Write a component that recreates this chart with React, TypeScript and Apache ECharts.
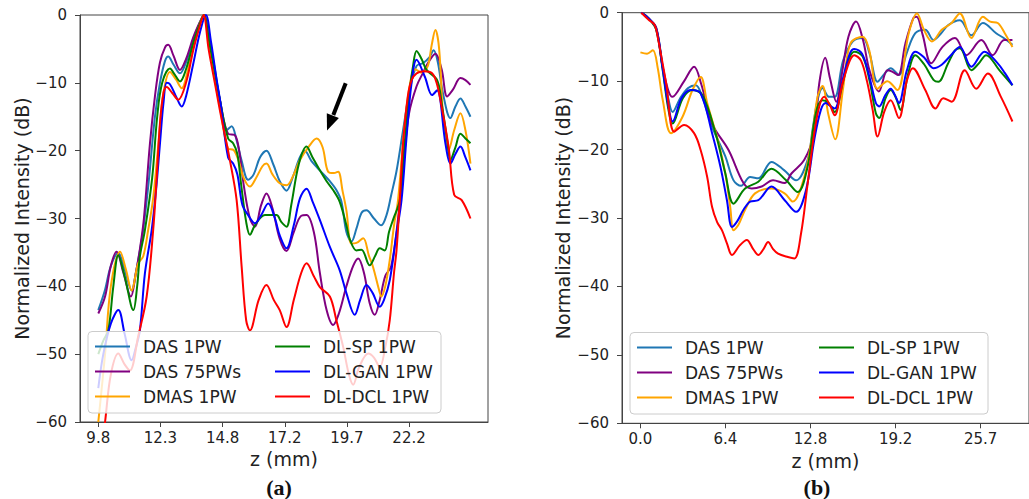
import React, { useEffect, useRef } from "react";
import * as echarts from "echarts";

// ---------- tick labels ----------
const zTicksA = [9.8, 12.28, 14.76, 17.24, 19.72, 22.2];
const zTickLabelsA = ["9.8", "12.3", "14.8", "17.2", "19.7", "22.2"];
const zTicksB = [0, 6.42, 12.84, 19.26, 25.68];
const zTickLabelsB = ["0.0", "6.4", "12.8", "19.2", "25.7"];

const seriesNames = ["DAS 1PW", "DAS 75PWs", "DMAS 1PW", "DL-SP 1PW", "DL-GAN 1PW", "DL-DCL 1PW"];

// ---------- panel (a) : [z (mm), dB] ----------
const dasA = [[9.8,-43.5],[10.07,-40.5],[10.3,-37],[10.6,-35.1],[10.85,-37.5],[11.13,-40.6],[11.3,-38],[11.46,-34.7],[11.59,-31.7],[11.8,-25],[12.06,-15],[12.26,-10],[12.46,-6.8],[12.59,-6.1],[12.8,-7.3],[13.06,-8.6],[13.3,-7],[13.6,-3.5],[13.86,-1],[14.01,0],[14.25,-4],[14.45,-8],[14.65,-12.5],[14.92,-17],[15.12,-16.4],[15.32,-18.5],[15.52,-21.5],[15.78,-24.3],[16.0,-23.5],[16.25,-21],[16.51,-20],[16.78,-22],[17.04,-24.5],[17.31,-25.9],[17.55,-24],[17.84,-21],[18.04,-20],[18.3,-21.5],[18.64,-22.9],[19.04,-24.5],[19.3,-25.8],[19.5,-27.5],[19.7,-32],[19.9,-33.4],[20.1,-31.5],[20.3,-29.2],[20.5,-28.8],[20.8,-30],[21.09,-31],[21.3,-29.5],[21.49,-26.5],[21.7,-23],[21.96,-17],[22.23,-11],[22.5,-7.5],[22.76,-7.1],[23.0,-6.3],[23.18,-5.2],[23.35,-7],[23.55,-11.5],[23.85,-15.2],[24.05,-13.5],[24.25,-12.3],[24.45,-13.5],[24.65,-15]];
const das75A = [[9.8,-44],[10.07,-41.5],[10.3,-37],[10.53,-34.9],[10.8,-38],[11.1,-41.5],[11.3,-38],[11.46,-34.5],[11.62,-30],[11.86,-19],[12.06,-12],[12.26,-7],[12.46,-4.8],[12.59,-4.4],[12.8,-6],[13.06,-8.1],[13.3,-6.5],[13.6,-3.2],[13.86,-1],[14.01,0],[14.25,-4.5],[14.45,-8.5],[14.65,-12.5],[14.98,-17.5],[15.25,-17.7],[15.42,-20],[15.6,-25],[15.85,-30],[16.05,-31.2],[16.3,-28],[16.51,-26.3],[16.75,-28.5],[17.04,-33],[17.31,-34.8],[17.6,-32],[17.9,-29.6],[18.11,-29.5],[18.4,-32],[18.64,-38],[18.91,-43.5],[19.17,-45.7],[19.4,-44],[19.7,-40],[19.97,-37],[20.17,-35.9],[20.4,-38],[20.63,-42.5],[20.83,-44.2],[21.03,-42],[21.25,-38.5],[21.49,-37],[21.76,-30],[22.0,-21],[22.2,-14.5],[22.5,-10.5],[22.76,-8.5],[23.0,-6.8],[23.25,-5.7],[23.5,-8],[23.72,-12],[23.95,-11],[24.25,-9.3],[24.45,-9.6],[24.65,-10.3]];
const dmasA = [[9.8,-60],[10.07,-50],[10.3,-40],[10.67,-34.9],[10.9,-37.5],[11.13,-40.6],[11.39,-36.6],[11.59,-35.6],[11.79,-31.7],[11.99,-27],[12.2,-19],[12.4,-11.5],[12.66,-8.4],[12.9,-9.5],[13.13,-10.8],[13.35,-8.5],[13.6,-4.5],[13.86,-1.2],[14.01,0],[14.25,-5],[14.45,-9.5],[14.65,-13.5],[14.98,-19.7],[15.2,-19.9],[15.4,-21.5],[15.6,-24],[15.85,-25.3],[16.1,-24],[16.35,-22.3],[16.51,-21.9],[16.75,-23.5],[17.04,-24.8],[17.31,-25.1],[17.6,-23.5],[17.84,-21.4],[18.2,-19.4],[18.51,-18.2],[18.75,-19.5],[18.97,-23.1],[19.2,-23.3],[19.37,-23.1],[19.55,-26],[19.7,-28.8],[19.9,-33.7],[20.1,-33.6],[20.37,-32.9],[20.6,-35.5],[20.76,-37.1],[21.0,-40.5],[21.09,-41.5],[21.25,-40],[21.43,-36.1],[21.6,-31],[21.76,-27.3],[21.98,-18],[22.2,-11],[22.45,-8],[22.7,-8.5],[22.95,-7.5],[23.1,-4.5],[23.25,-2.2],[23.4,-5],[23.58,-16],[23.78,-19.9],[24.0,-17],[24.25,-14.5],[24.45,-17],[24.65,-21.9]];
const dlspA = [[9.8,-50],[10.0,-48],[10.2,-46.5],[10.4,-40],[10.6,-35.4],[10.85,-38.5],[11.2,-43.5],[11.35,-40],[11.46,-35.6],[11.66,-31.7],[11.95,-24],[12.15,-15],[12.35,-10],[12.66,-7.9],[12.85,-8.8],[13.06,-9.8],[13.3,-8],[13.6,-4],[13.86,-1.2],[14.01,0],[14.25,-4.5],[14.45,-8.5],[14.65,-12.5],[14.98,-18.2],[15.18,-18.9],[15.35,-20.5],[15.5,-25],[15.7,-30.5],[15.85,-32.4],[16.05,-31],[16.45,-29.5],[16.91,-29.5],[17.1,-30.5],[17.31,-31.2],[17.5,-28],[17.8,-22],[18.11,-19.4],[18.35,-21],[18.64,-22.9],[18.91,-24.5],[19.17,-25.8],[19.43,-27.5],[19.7,-31],[19.83,-33],[20.1,-34.7],[20.3,-34.6],[20.63,-36.9],[20.85,-35.5],[21.03,-34.4],[21.23,-34.7],[21.4,-32],[21.56,-30.2],[21.83,-27.3],[22.0,-20],[22.2,-12],[22.36,-7.5],[22.5,-5.3],[22.7,-6.5],[22.9,-8.1],[23.32,-9.6],[23.5,-13],[23.72,-18.4],[23.85,-21.4],[24.05,-19.5],[24.25,-17.5],[24.45,-18.2],[24.65,-18.9]];
const dlganA = [[9.8,-55],[10.0,-50],[10.3,-45.5],[10.6,-43.5],[10.85,-47],[11.13,-50.9],[11.3,-49],[11.46,-46.5],[11.66,-38.1],[11.93,-31.7],[12.1,-26],[12.26,-19],[12.4,-13],[12.53,-10],[12.66,-10.2],[12.9,-12],[13.13,-13.5],[13.3,-12],[13.6,-7],[13.86,-2.5],[14.09,0],[14.3,-4],[14.5,-9],[14.7,-13.5],[14.98,-21],[15.18,-21.9],[15.35,-23.5],[15.55,-28],[15.78,-29.5],[16.05,-30.7],[16.3,-29.5],[16.58,-27.8],[16.85,-30],[17.04,-32.5],[17.31,-34.4],[17.6,-31],[17.85,-27],[18.11,-25.6],[18.35,-27.5],[18.64,-30.2],[19.04,-34.2],[19.43,-37.6],[19.7,-41],[20.03,-44.2],[20.25,-42],[20.5,-39.8],[20.75,-41],[21.03,-43],[21.2,-42],[21.43,-39.1],[21.7,-32.2],[21.9,-27.3],[22.1,-18],[22.3,-10],[22.5,-6.6],[22.83,-9.1],[23.12,-11.8],[23.32,-11.1],[23.65,-18.9],[23.85,-21.9],[24.05,-20.5],[24.25,-19.4],[24.45,-21],[24.65,-22.9]];
const dldclA = [[9.8,-68],[10.07,-60],[10.3,-53],[10.6,-49.9],[10.85,-51.5],[11.06,-52.4],[11.39,-47.4],[11.73,-41.5],[11.99,-31.7],[12.13,-24],[12.26,-16],[12.4,-11.5],[12.53,-10.6],[12.75,-11.5],[12.99,-12.5],[13.3,-10],[13.6,-5],[13.86,-1.5],[14.0,0],[14.2,-5],[14.45,-10],[14.65,-14],[15.05,-21.4],[15.32,-27.3],[15.52,-37.1],[15.7,-45],[15.85,-46.5],[16.2,-42],[16.51,-39.8],[16.8,-42],[17.04,-43.5],[17.31,-46],[17.6,-42],[17.9,-38],[18.11,-36.6],[18.4,-38.5],[18.64,-40.1],[19.04,-41.5],[19.3,-45],[19.57,-48.9],[19.8,-53],[19.97,-54.5],[20.2,-52],[20.57,-49.9],[20.8,-50.5],[21.03,-51.9],[21.25,-49],[21.43,-45],[21.6,-38],[21.7,-34.7],[21.83,-27.3],[21.96,-19],[22.15,-12],[22.3,-9.6],[22.5,-8.6],[22.8,-8.3],[23.12,-8.6],[23.3,-10],[23.45,-12.5],[23.78,-19.5],[24.0,-26.5],[24.3,-27.3],[24.65,-30]];

// ---------- panel (b) : [z (mm), dB] ----------
const dasB = [[0.07,0],[0.6,-0.8],[1.19,-2.2],[1.69,-8],[2.1,-12.5],[2.43,-14.5],[3.0,-12.5],[3.6,-11],[4.18,-10.6],[4.7,-12.5],[5.41,-16.7],[6.41,-21],[7.03,-24.5],[7.6,-25.3],[8.28,-24],[8.9,-24.2],[9.89,-21.8],[10.84,-23],[11.75,-24.5],[12.62,-21.5],[13.0,-17],[13.37,-12.8],[13.74,-11],[14.24,-12.3],[14.66,-12.3],[15.3,-7],[16.03,-4.2],[16.78,-3.7],[17.3,-6],[17.9,-10.1],[18.4,-9],[18.89,-8.1],[19.51,-9.1],[20.08,-6],[20.75,-3],[21.5,-2.5],[22.12,-4],[22.7,-3],[23.24,-1.8],[24.11,-1.1],[24.98,-3.3],[25.85,-1.5],[26.85,-3],[27.5,-3.8],[28.08,-4.7]];
const das75B = [[0.07,0],[0.6,-0.8],[1.19,-2.2],[1.69,-8],[2.43,-12.3],[3.3,-10],[4.05,-7.9],[4.6,-10.5],[5.41,-16.2],[6.66,-20.1],[7.78,-24.9],[8.4,-25.7],[9.15,-25.4],[10.01,-24.5],[10.88,-24.9],[11.4,-23.5],[12.37,-21.5],[13.12,-17.6],[13.5,-10.3],[13.95,-6.6],[14.3,-9.5],[14.79,-13],[15.2,-9],[15.7,-3.5],[16.28,-1.3],[16.8,-4],[17.3,-8.5],[18.0,-11.5],[18.64,-8.4],[19.0,-8.6],[19.45,-9.1],[20.0,-4.5],[20.6,-0.8],[20.85,-0.6],[21.3,-3.2],[21.95,-7.4],[22.8,-5],[23.74,-3.7],[24.61,-6.2],[25.73,-4],[26.59,-6.2],[27.46,-4],[28.08,-4]];
const dmasB = [[0.0,-5.8],[0.5,-6],[0.94,-5.5],[1.3,-8],[1.69,-12.8],[2.31,-17.6],[3.18,-15.2],[3.93,-11.3],[4.55,-9.4],[5.04,-13.2],[5.91,-19.1],[6.41,-23.5],[6.78,-28.4],[7.03,-31.8],[7.4,-31],[7.9,-28.8],[8.65,-26.4],[9.89,-25.7],[10.88,-26.4],[11.5,-27.6],[12.37,-24],[12.99,-17.6],[13.37,-12.3],[13.74,-10.7],[14.2,-15],[14.7,-18.5],[15.3,-11],[15.85,-4.5],[16.78,-3.5],[17.27,-5.5],[17.9,-11.1],[18.64,-10],[19.39,-11.3],[20.25,-3],[20.88,-0.1],[21.4,-2.5],[22.0,-4.2],[22.74,-2.5],[23.49,-1.5],[24.11,-0.1],[24.98,-3.7],[25.85,-0.6],[26.4,-1.3],[26.97,-1.5],[27.5,-3],[28.08,-5]];
const dlspB = [[0.07,0],[0.6,-0.8],[1.19,-2.5],[1.69,-8.5],[2.1,-14],[2.43,-16.2],[3.2,-12.5],[3.92,-11.3],[4.67,-12],[5.67,-17.6],[6.41,-23.5],[7.03,-27.9],[7.9,-25.7],[8.9,-24.7],[9.89,-22.8],[11.0,-24.5],[11.88,-26.2],[12.62,-22.5],[13.24,-14.7],[13.74,-12.8],[14.2,-13.2],[14.66,-14.5],[15.3,-10],[15.8,-6.5],[16.15,-5.7],[16.78,-6.4],[17.3,-10],[17.77,-14.7],[18.02,-15.4],[18.5,-12.5],[18.89,-11.3],[19.3,-12.5],[19.63,-14.2],[20.2,-9],[20.75,-6.2],[21.4,-7.5],[22.12,-9.8],[22.49,-10.1],[23.2,-7.5],[23.74,-5.5],[24.11,-5.2],[24.98,-8.4],[25.5,-7.5],[26.1,-6.2],[27.09,-8.4],[28.08,-10.6]];
const dlganB = [[0.07,0],[0.6,-0.8],[1.19,-2.3],[1.69,-8.3],[2.1,-13.5],[2.43,-15.9],[3.1,-12.5],[3.8,-11.3],[4.55,-11.8],[5.41,-17.6],[6.04,-22.5],[6.53,-27.4],[6.91,-31.3],[7.3,-30.5],[7.78,-28.8],[8.28,-27.6],[8.9,-27.4],[9.89,-25.4],[10.89,-27.4],[11.75,-29.1],[12.5,-25.9],[13.12,-18.6],[13.62,-14.2],[13.99,-13.2],[14.3,-13.6],[14.66,-14],[15.3,-9.5],[15.8,-6],[16.15,-5.3],[16.73,-6],[17.3,-9.5],[17.77,-13.2],[18.02,-13.7],[18.5,-12],[18.89,-11.1],[19.2,-12],[19.51,-13.2],[20.1,-8.5],[20.75,-5.7],[21.4,-6.5],[22.12,-8.1],[22.74,-7.6],[23.4,-6.3],[24.11,-5],[24.98,-7.9],[25.97,-5.7],[26.97,-7.4],[27.5,-8.8],[28.08,-10.6]];
const dldclB = [[0.07,0],[0.6,-1],[1.07,-1.8],[1.35,-4],[1.94,-10.3],[2.56,-17.4],[3.3,-16.4],[4.05,-17.6],[4.55,-20.1],[5.04,-24],[5.41,-28.4],[5.79,-30.6],[6.16,-31.8],[6.53,-33.7],[6.91,-35.4],[7.5,-34],[8.03,-33.2],[8.5,-34.5],[8.9,-35.4],[9.3,-34.5],[9.64,-33.5],[10.0,-34.5],[10.39,-35.2],[11.13,-35.7],[11.63,-35.9],[12.12,-32.3],[12.62,-25],[13.12,-17.6],[13.5,-13.7],[13.87,-12.3],[14.3,-13.5],[14.66,-15],[15.3,-10],[16.15,-6.2],[16.65,-7],[17.1,-10],[17.53,-14.2],[17.9,-18.1],[18.4,-14.5],[18.89,-12.8],[19.51,-15.4],[20.1,-10],[20.56,-8.1],[21.5,-11.3],[22.27,-14],[22.86,-12.5],[23.49,-13],[24.48,-8.4],[25.35,-11.1],[26.22,-8.9],[27.21,-12.3],[28.08,-15.9]];

const seriesColors = ["#1f77b4", "#800080", "#ffa500", "#008000", "#0000ff", "#ff0000"];
const panelA = [dasA, das75A, dmasA, dlspA, dlganA, dldclA];
const panelB = [dasB, das75B, dmasB, dlspB, dlganB, dldclB];

const FONT = "DejaVu Sans";
const AXIS_COLOR = "#444";
const TEXT_COLOR = "#222";

function nearestLabel(v: number, ticks: number[], labels: string[]) {
  let best = 0;
  for (let i = 1; i < ticks.length; i++) {
    if (Math.abs(ticks[i] - v) < Math.abs(ticks[best] - v)) best = i;
  }
  return labels[best];
}

function makeXAxis(gridIndex: number, min: number, max: number, ticks: number[], labels: string[], nameGap: number) {
  return {
    type: "value",
    gridIndex,
    min,
    max,
    axisLine: { show: true, onZero: false, lineStyle: { color: AXIS_COLOR, width: 1 } },
    axisTick: { show: true, customValues: ticks, length: 5, lineStyle: { color: AXIS_COLOR } },
    axisLabel: {
      customValues: ticks,
      formatter: (v: number) => nearestLabel(v, ticks, labels),
      fontFamily: FONT,
      fontSize: 15,
      color: TEXT_COLOR,
      margin: 8,
    },
    splitLine: { show: false },
    name: "z (mm)",
    nameLocation: "middle",
    nameGap,
    nameTextStyle: { fontFamily: FONT, fontSize: 19, color: TEXT_COLOR },
  };
}

function makeYAxis(gridIndex: number, nameGap: number) {
  return {
    type: "value",
    gridIndex,
    min: -60,
    max: 0,
    interval: 10,
    axisLine: { show: true, onZero: false, lineStyle: { color: AXIS_COLOR, width: 1 } },
    axisTick: { show: true, length: 5, lineStyle: { color: AXIS_COLOR } },
    axisLabel: {
      formatter: (v: number) => (v < 0 ? "\u2212" + Math.abs(v) : String(v)),
      fontFamily: FONT,
      fontSize: 15,
      color: TEXT_COLOR,
      margin: 13,
    },
    splitLine: { show: false },
    name: "Normalized Intensity (dB)",
    nameLocation: "middle",
    nameRotate: 90,
    nameGap,
    nameTextStyle: { fontFamily: FONT, fontSize: 19, color: TEXT_COLOR },
  };
}

export default function App() {
  const ref = useRef<HTMLDivElement>(null);

  useEffect(() => {
    if (!ref.current) return;
    const chart = echarts.init(ref.current, null, { renderer: "svg" });

    const series: any[] = [];
    seriesNames.forEach((name, i) => {
      [panelA[i], panelB[i]].forEach((data, p) => {
        series.push({
          type: "line",
          name,
          xAxisIndex: p,
          yAxisIndex: p,
          data,
          smooth: 0.35,
          symbol: "none",
          showSymbol: false,
          clip: true,
          color: seriesColors[i],
          lineStyle: { width: 2, color: seriesColors[i] },
          z: 2,
        });
      });
    });

    const legendCommon = {
      orient: "vertical",
      padding: 0,
      icon: "rect",
      itemWidth: 35,
      itemHeight: 2,
      itemGap: 8,
      selectedMode: false,
      z: 5,
      textStyle: {
        fontFamily: FONT,
        fontSize: 17,
        color: TEXT_COLOR,
        lineHeight: 17,
        padding: [0, 0, 0, 8],
      },
    };

    const option: any = {
      animation: false,
      backgroundColor: "#ffffff",
      grid: [
        { left: 80, top: 15, width: 408, height: 407, show: true, borderColor: AXIS_COLOR, borderWidth: 1, backgroundColor: "transparent" },
        { left: 622, top: 12.7, width: 412, height: 410.6, show: true, borderColor: AXIS_COLOR, borderWidth: 1, backgroundColor: "transparent" },
      ],
      xAxis: [
        makeXAxis(0, 9.07, 25.35, zTicksA, zTickLabelsA, 25),
        makeXAxis(1, -1.39, 29.33, zTicksB, zTickLabelsB, 26),
      ],
      yAxis: [makeYAxis(0, 47), makeYAxis(1, 50)],
      legend: [
        { ...legendCommon, left: 95, top: 338, data: seriesNames.slice(0, 3) },
        { ...legendCommon, left: 275, top: 338, data: seriesNames.slice(3) },
        { ...legendCommon, left: 637, top: 339, data: seriesNames.slice(0, 3) },
        { ...legendCommon, left: 819, top: 339, data: seriesNames.slice(3) },
      ],
      graphic: [
        {
          type: "rect",
          z: 3,
          shape: { x: 88, y: 331.5, width: 353, height: 81.5, r: 4 },
          style: { fill: "rgba(255,255,255,0.8)", stroke: "#cccccc", lineWidth: 1 },
        },
        {
          type: "rect",
          z: 3,
          shape: { x: 630, y: 332.5, width: 358, height: 81.5, r: 4 },
          style: { fill: "rgba(255,255,255,0.8)", stroke: "#cccccc", lineWidth: 1 },
        },
        {
          type: "line",
          z: 6,
          shape: { x1: 345.7, y1: 83.3, x2: 333.3, y2: 115 },
          style: { stroke: "#000000", lineWidth: 4 },
        },
        {
          type: "polygon",
          z: 6,
          shape: { points: [[327, 130.5], [326.8, 113.2], [338.9, 118]] },
          style: { fill: "#000000" },
        },
        {
          type: "text",
          z: 6,
          x: 279,
          y: 487,
          style: { text: "(a)", font: 'bold 22px "Liberation Serif"', fill: "#111", align: "center", verticalAlign: "middle" },
        },
        {
          type: "text",
          z: 6,
          x: 817,
          y: 487,
          style: { text: "(b)", font: 'bold 22px "Liberation Serif"', fill: "#111", align: "center", verticalAlign: "middle" },
        },
      ],
      series,
    };

    chart.setOption(option);
    return () => chart.dispose();
  }, []);

  return (
    <div
      ref={ref}
      style={{ position: "absolute", left: 0, top: 0, width: 1029, height: 499, background: "#ffffff" }}
    />
  );
}
